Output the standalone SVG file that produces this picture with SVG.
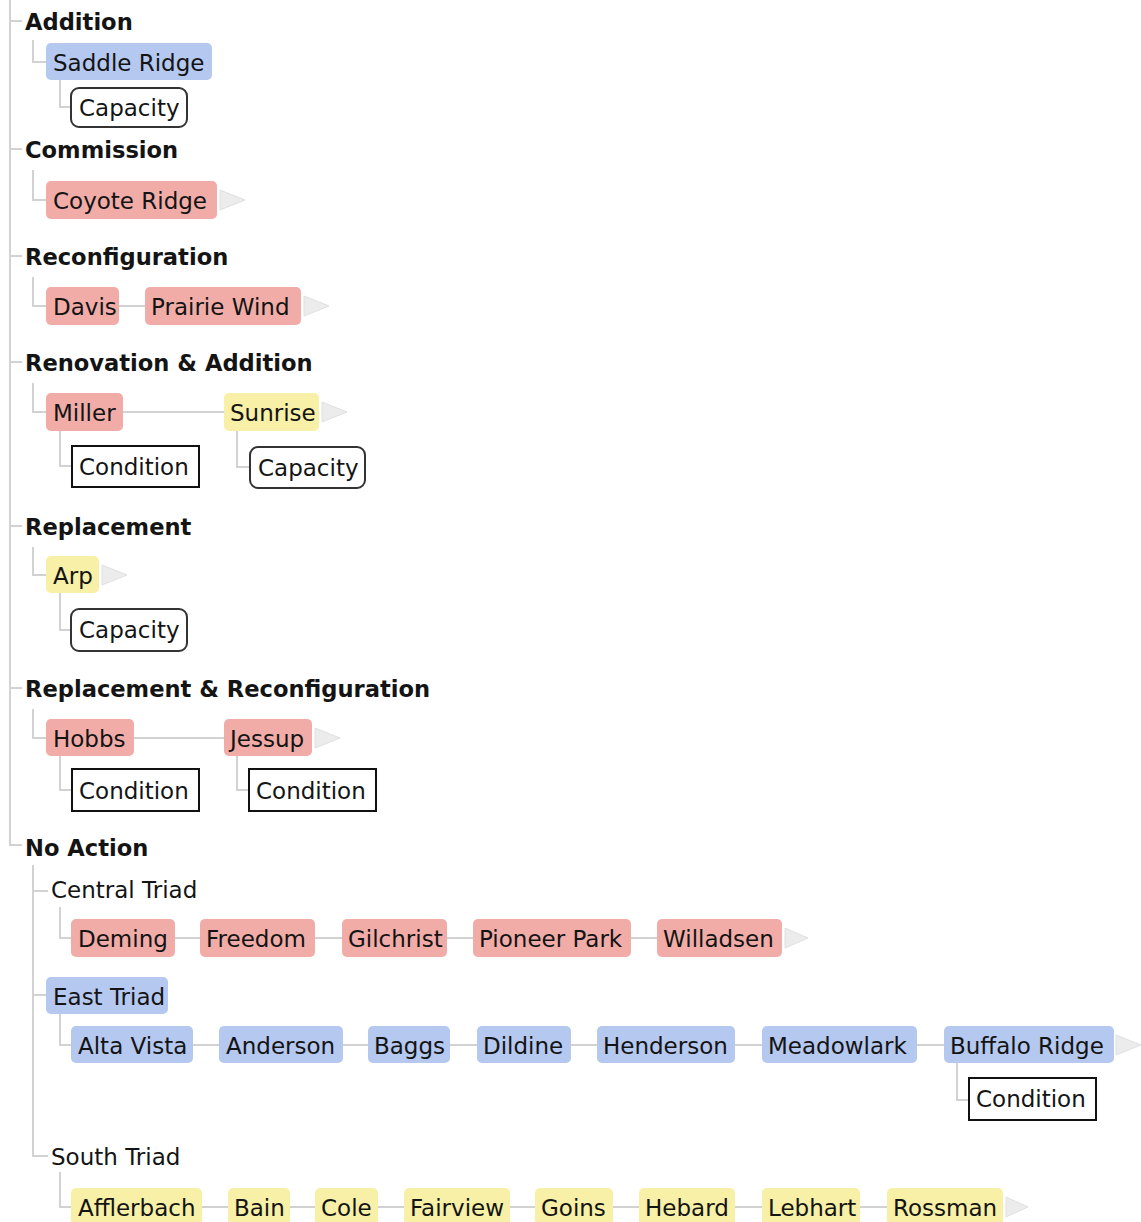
<svg xmlns="http://www.w3.org/2000/svg" width="1141" height="1222" viewBox="0 0 1141 1222">
<style>
text{font-family:"DejaVu Sans","Liberation Sans",sans-serif;font-size:23px;fill:#141414}
.h{font-weight:bold;font-size:22.6px}
.b{fill:#b5c8f0}
.r{fill:#f1aca8}
.y{fill:#f7f0a6}
.cap{fill:#fff;stroke:#333;stroke-width:2}
.con{fill:#fff;stroke:#111;stroke-width:2}
.ln{fill:none;stroke:#d2d2d2;stroke-width:2}
.ar{fill:#ececec;stroke:#e0e0e0;stroke-width:1}
</style>
<g id="connectors">
<path class="ln" d="M10 0V845H22M10 21H22M10 149H22M10 256H22M10 362H22M10 526H22M10 688H22"/>
<path class="ln" d="M33 40V62H46M60 80V107H70"/>
<path class="ln" d="M33 170V200H46"/>
<path class="ln" d="M33 277V306H46M119 306H145"/>
<path class="ln" d="M33 383V412H46M123 412H224M60 431V466H71M237 431V467H249"/>
<path class="ln" d="M33 547V575H46M60 593V630H70"/>
<path class="ln" d="M33 709V738H46M134 738H224M60 756V790H71M237 756V790H248"/>
<path class="ln" d="M33 865V1156H48M33 891H48M33 995H46"/>
<path class="ln" d="M60 907V938H71M175 938H200M315 938H342M447 938H473M631 938H657"/>
<path class="ln" d="M60 1014V1045H71M193 1045H219M343 1045H368M450 1045H477M571 1045H597M735 1045H762M917 1045H944M957 1062V1100H968"/>
<path class="ln" d="M60 1172V1207H71M202 1207H228M290 1207H315M378 1207H404M510 1207H535M613 1207H639M735 1207H762M860 1207H887"/>
<polygon class="ar" points="220,190 245,200 220,210"/>
<polygon class="ar" points="304,296 329,306 304,316"/>
<polygon class="ar" points="322,402 347,412 322,422"/>
<polygon class="ar" points="102,565 127,575 102,585"/>
<polygon class="ar" points="315,728 340,738 315,748"/>
<polygon class="ar" points="785,928 808,938 785,948"/>
<polygon class="ar" points="1116,1035 1141,1045 1116,1055"/>
<polygon class="ar" points="1006,1197 1028,1207 1006,1217"/>
</g>
<g id="addition"><text class="h" x="25" y="30">Addition</text></g>
<g id="saddle-ridge"><rect class="b" x="46" y="43" width="166" height="37" rx="5"/><text x="53" y="71">Saddle Ridge</text></g>
<g id="capacity-1"><rect class="cap" x="71" y="88" width="116" height="39" rx="8"/><text x="79" y="116">Capacity</text></g>
<g id="commission"><text class="h" x="25" y="158">Commission</text></g>
<g id="coyote-ridge"><rect class="r" x="46" y="181" width="171" height="38" rx="5"/><text x="53" y="209">Coyote Ridge</text></g>
<g id="reconfiguration"><text class="h" x="25" y="265">Reconfiguration</text></g>
<g id="davis"><rect class="r" x="46" y="287" width="73" height="38" rx="5"/><text x="53" y="315">Davis</text></g>
<g id="prairie-wind"><rect class="r" x="145" y="287" width="156" height="38" rx="5"/><text x="151" y="315">Prairie Wind</text></g>
<g id="renovation-addition"><text class="h" x="25" y="371">Renovation &amp; Addition</text></g>
<g id="miller"><rect class="r" x="46" y="393" width="77" height="38" rx="5"/><text x="53" y="421">Miller</text></g>
<g id="sunrise"><rect class="y" x="224" y="393" width="95" height="38" rx="5"/><text x="230" y="421">Sunrise</text></g>
<g id="condition-1"><rect class="con" x="72" y="446" width="127" height="41"/><text x="79" y="475">Condition</text></g>
<g id="capacity-2"><rect class="cap" x="250" y="447" width="115" height="41" rx="8"/><text x="258" y="476">Capacity</text></g>
<g id="replacement"><text class="h" x="25" y="535">Replacement</text></g>
<g id="arp"><rect class="y" x="46" y="556" width="53" height="37" rx="5"/><text x="53" y="584">Arp</text></g>
<g id="capacity-3"><rect class="cap" x="71" y="609" width="116" height="42" rx="8"/><text x="79" y="638">Capacity</text></g>
<g id="replacement-reconfiguration"><text class="h" x="25" y="697">Replacement &amp; Reconfiguration</text></g>
<g id="hobbs"><rect class="r" x="46" y="719" width="88" height="37" rx="5"/><text x="53" y="747">Hobbs</text></g>
<g id="jessup"><rect class="r" x="224" y="719" width="88" height="37" rx="5"/><text x="230" y="747">Jessup</text></g>
<g id="condition-2"><rect class="con" x="72" y="769" width="127" height="42"/><text x="79" y="799">Condition</text></g>
<g id="condition-3"><rect class="con" x="249" y="769" width="127" height="42"/><text x="256" y="799">Condition</text></g>
<g id="no-action"><text class="h" x="25" y="856">No Action</text></g>
<g id="central-triad"><text x="51" y="898">Central Triad</text></g>
<g id="deming"><rect class="r" x="71" y="919" width="104" height="38" rx="5"/><text x="78" y="947">Deming</text></g>
<g id="freedom"><rect class="r" x="200" y="919" width="115" height="38" rx="5"/><text x="206" y="947">Freedom</text></g>
<g id="gilchrist"><rect class="r" x="342" y="919" width="105" height="38" rx="5"/><text x="348" y="947">Gilchrist</text></g>
<g id="pioneer-park"><rect class="r" x="473" y="919" width="158" height="38" rx="5"/><text x="479" y="947">Pioneer Park</text></g>
<g id="willadsen"><rect class="r" x="657" y="919" width="125" height="38" rx="5"/><text x="663" y="947">Willadsen</text></g>
<g id="east-triad"><rect class="b" x="46" y="977" width="122" height="37" rx="5"/><text x="53" y="1005">East Triad</text></g>
<g id="alta-vista"><rect class="b" x="71" y="1026" width="122" height="37" rx="5"/><text x="78" y="1054">Alta Vista</text></g>
<g id="anderson"><rect class="b" x="219" y="1026" width="124" height="37" rx="5"/><text x="226" y="1054">Anderson</text></g>
<g id="baggs"><rect class="b" x="368" y="1026" width="82" height="37" rx="5"/><text x="374" y="1054">Baggs</text></g>
<g id="dildine"><rect class="b" x="477" y="1026" width="94" height="37" rx="5"/><text x="483" y="1054">Dildine</text></g>
<g id="henderson"><rect class="b" x="597" y="1026" width="138" height="37" rx="5"/><text x="603" y="1054">Henderson</text></g>
<g id="meadowlark"><rect class="b" x="762" y="1026" width="155" height="37" rx="5"/><text x="768" y="1054">Meadowlark</text></g>
<g id="buffalo-ridge"><rect class="b" x="944" y="1026" width="170" height="37" rx="5"/><text x="950" y="1054">Buffalo Ridge</text></g>
<g id="condition-4"><rect class="con" x="969" y="1078" width="127" height="42"/><text x="976" y="1107">Condition</text></g>
<g id="south-triad"><text x="51" y="1165">South Triad</text></g>
<g id="afflerbach"><rect class="y" x="71" y="1188" width="131" height="38" rx="5"/><text x="78" y="1216">Afflerbach</text></g>
<g id="bain"><rect class="y" x="228" y="1188" width="62" height="38" rx="5"/><text x="234" y="1216">Bain</text></g>
<g id="cole"><rect class="y" x="315" y="1188" width="63" height="38" rx="5"/><text x="321" y="1216">Cole</text></g>
<g id="fairview"><rect class="y" x="404" y="1188" width="106" height="38" rx="5"/><text x="410" y="1216">Fairview</text></g>
<g id="goins"><rect class="y" x="535" y="1188" width="78" height="38" rx="5"/><text x="541" y="1216">Goins</text></g>
<g id="hebard"><rect class="y" x="639" y="1188" width="96" height="38" rx="5"/><text x="645" y="1216">Hebard</text></g>
<g id="lebhart"><rect class="y" x="762" y="1188" width="98" height="38" rx="5"/><text x="768" y="1216">Lebhart</text></g>
<g id="rossman"><rect class="y" x="887" y="1188" width="116" height="38" rx="5"/><text x="893" y="1216">Rossman</text></g>
</svg>
